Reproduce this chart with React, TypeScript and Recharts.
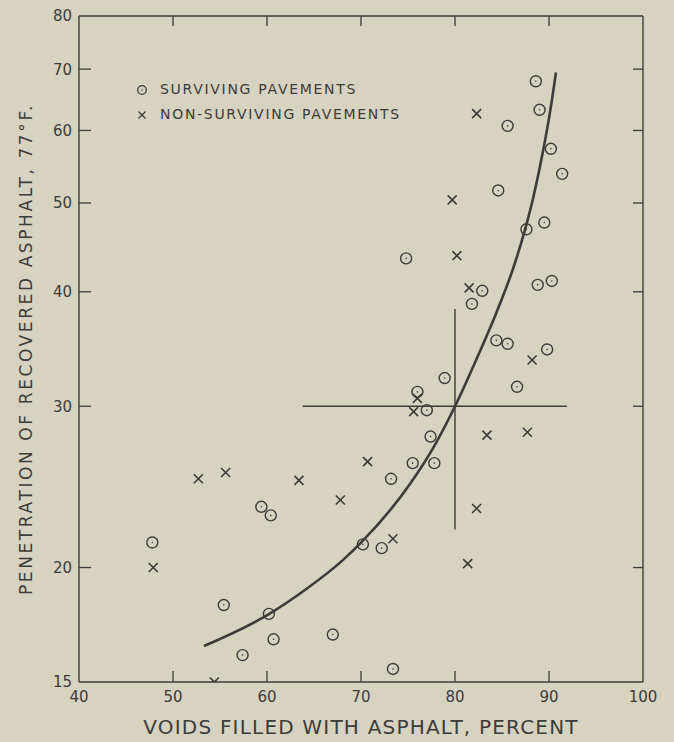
import { ComposedChart, Line, ReferenceLine, Scatter, XAxis, YAxis } from "recharts";

// voids filled (%) , penetration at 77°F
const surviving: [number, number][] = [
  [88.6, 67.9], [89.0, 63.2], [85.6, 60.7], [90.2, 57.3], [91.4, 53.8],
  [84.6, 51.6], [89.5, 47.6], [87.6, 46.8], [74.8, 43.5], [82.9, 40.1],
  [88.8, 40.7], [90.3, 41.1], [81.8, 38.8], [84.4, 35.4], [85.6, 35.1],
  [89.8, 34.6], [86.6, 31.5], [78.9, 32.2], [76.0, 31.1], [77.0, 29.7],
  [77.4, 27.8], [75.5, 26.0], [77.8, 26.0], [73.2, 25.0], [59.4, 23.3],
  [60.4, 22.8], [47.8, 21.3], [70.2, 21.2], [72.2, 21.0], [55.4, 18.2],
  [60.2, 17.8], [60.7, 16.7], [67.0, 16.9], [57.4, 16.05], [73.4, 15.5],
];

const nonSurviving: [number, number][] = [
  [82.3, 62.6], [79.7, 50.4], [80.2, 43.8], [81.5, 40.4], [88.2, 33.7],
  [76.0, 30.6], [75.6, 29.6], [83.4, 27.9], [87.7, 28.1], [70.7, 26.1],
  [52.7, 25.0], [55.6, 25.4], [63.4, 24.9], [67.8, 23.7], [82.3, 23.2],
  [73.4, 21.5], [47.9, 20.0], [81.35, 20.2], [54.4, 15.0],
];

// hand-drawn trend curve
const trend: [number, number][] = [
  [53.3, 16.42], [60.2, 17.79], [64.0, 18.89], [68.1, 20.39], [70.0, 21.29],
  [75.3, 24.75], [77.7, 27.04], [80.0, 30.0], [82.2, 33.62], [84.5, 38.17],
  [86.2, 42.46], [87.45, 46.76], [88.4, 51.08], [89.36, 56.94], [90.11, 62.83],
  [90.74, 69.4],
];

const crossH: [number, number][] = [[63.8, 30], [91.9, 30]];
const crossV: [number, number][] = [[80, 22.0], [80, 38.3]];

const xTicks = [40, 50, 60, 70, 80, 90, 100];
const yTicks = [15, 20, 30, 40, 50, 60, 70, 80];

const toPts = (arr: [number, number][]) => arr.map(([x, y]) => ({ x, y }));

const INK = "#3c3c38";
const PAPER = "#d6d3c1";

function LeftTick({ x, y, payload }: any) {
  const v = payload.value;
  return (
    <g>
      {v !== 15 && v !== 80 && (
        <line x1={x + 7} x2={x + 19} y1={y} y2={y} stroke={INK} strokeWidth={1.3} />
      )}
      <text x={x} y={y} dy="0.36em" textAnchor="end" fill={INK} fontSize={15}>
        {v}
      </text>
    </g>
  );
}

function RightTick({ x, y, payload }: any) {
  if (payload.value === 15 || payload.value === 80) return <g />;
  return <line x1={x} x2={x - 10} y1={y} y2={y} stroke={INK} strokeWidth={1.3} />;
}

function BottomTick({ x, y, payload }: any) {
  const v = payload.value;
  return (
    <g>
      {v !== 40 && v !== 100 && (
        <line x1={x} x2={x} y1={y} y2={y - 11} stroke={INK} strokeWidth={1.3} />
      )}
      <text x={x} y={y + 20} textAnchor="middle" fill={INK} fontSize={15}>
        {v}
      </text>
    </g>
  );
}

function TopTick({ x, y, payload }: any) {
  if (payload.value === 40 || payload.value === 100) return <g />;
  return <line x1={x} x2={x} y1={y} y2={y + 10} stroke={INK} strokeWidth={1.3} />;
}

function Ring({ cx, cy }: any) {
  return (
    <g>
      <circle cx={cx} cy={cy} r={5.5} fill="none" stroke={INK} strokeWidth={1.4} />
      <circle cx={cx} cy={cy} r={0.8} fill={INK} />
    </g>
  );
}

function Cross({ cx, cy }: any) {
  const d = 4.5;
  return (
    <g stroke={INK} strokeWidth={1.6}>
      <line x1={cx - d} y1={cy - d} x2={cx + d} y2={cy + d} />
      <line x1={cx - d} y1={cy + d} x2={cx + d} y2={cy - d} />
    </g>
  );
}

export default function App() {
  return (
    <div
      style={{
        position: "fixed",
        left: 0,
        top: 0,
        width: 674,
        height: 742,
        background: PAPER,
        fontFamily: "'DejaVu Sans', sans-serif",
        color: INK,
      }}
    >
      <ComposedChart width={674} height={742} margin={{ top: 15, right: 30, bottom: 0, left: 0 }}>
        <XAxis
          dataKey="x"
          type="number"
          domain={[40, 100]}
          ticks={xTicks}
          allowDataOverflow
          height={60}
          tickSize={0}
          tickMargin={0}
          tickLine={false}
          tick={<BottomTick />}
          axisLine={{ stroke: INK, strokeWidth: 1.4 }}
          label={{
            value: "VOIDS FILLED WITH ASPHALT, PERCENT",
            position: "insideBottom",
            offset: 8,
            fill: INK,
            fontSize: 20,
            style: { letterSpacing: 1.2 },
          }}
        />
        <XAxis
          xAxisId="top"
          orientation="top"
          dataKey="x"
          type="number"
          domain={[40, 100]}
          ticks={xTicks}
          allowDataOverflow
          height={1}
          tickSize={0}
          tickMargin={0}
          tickLine={false}
          tick={<TopTick />}
          axisLine={{ stroke: INK, strokeWidth: 1.4 }}
        />
        <YAxis
          dataKey="y"
          type="number"
          scale="log"
          domain={[15, 80]}
          ticks={yTicks}
          allowDataOverflow
          width={79}
          tickSize={0}
          tickMargin={7}
          tickLine={false}
          tick={<LeftTick />}
          axisLine={{ stroke: INK, strokeWidth: 1.4 }}
          label={{
            value: "PENETRATION OF RECOVERED ASPHALT, 77°F.",
            angle: -90,
            position: "insideLeft",
            offset: 26,
            fill: INK,
            fontSize: 17,
            style: { textAnchor: "middle", letterSpacing: 2.6 },
          }}
        />
        <YAxis
          yAxisId="right"
          orientation="right"
          dataKey="y"
          type="number"
          scale="log"
          domain={[15, 80]}
          ticks={yTicks}
          allowDataOverflow
          width={1}
          tickSize={0}
          tickMargin={0}
          tickLine={false}
          tick={<RightTick />}
          axisLine={{ stroke: INK, strokeWidth: 1.4 }}
        />
        <ReferenceLine
          segment={crossH.map(([x, y]) => ({ x, y }))}
          stroke={INK}
          strokeWidth={1.4}
          ifOverflow="visible"
        />
        <ReferenceLine
          segment={crossV.map(([x, y]) => ({ x, y }))}
          stroke={INK}
          strokeWidth={1.4}
          ifOverflow="visible"
        />
        <Line
          data={toPts(trend)}
          dataKey="y"
          type="monotone"
          stroke={INK}
          strokeWidth={2.6}
          dot={false}
          activeDot={false}
          isAnimationActive={false}
        />
        <Scatter data={toPts(surviving)} dataKey="y" shape={<Ring />} isAnimationActive={false} />
        <Scatter data={toPts(nonSurviving)} dataKey="y" shape={<Cross />} isAnimationActive={false} />
      </ComposedChart>
      <div
        style={{
          position: "absolute",
          left: 135,
          top: 77,
          fontSize: 14,
          letterSpacing: 1.7,
          lineHeight: "25px",
        }}
      >
        <div style={{ display: "flex", alignItems: "center" }}>
          <svg width={14} height={14} style={{ marginRight: 11 }}>
            <circle cx={7} cy={7} r={4.3} fill="none" stroke={INK} strokeWidth={1.3} />
            <circle cx={7} cy={7} r={0.8} fill={INK} />
          </svg>
          SURVIVING PAVEMENTS
        </div>
        <div style={{ display: "flex", alignItems: "center" }}>
          <svg width={14} height={14} style={{ marginRight: 11 }}>
            <g stroke={INK} strokeWidth={1.3}>
              <line x1={3.5} y1={3.5} x2={10.5} y2={10.5} />
              <line x1={3.5} y1={10.5} x2={10.5} y2={3.5} />
            </g>
          </svg>
          NON-SURVIVING PAVEMENTS
        </div>
      </div>
    </div>
  );
}
